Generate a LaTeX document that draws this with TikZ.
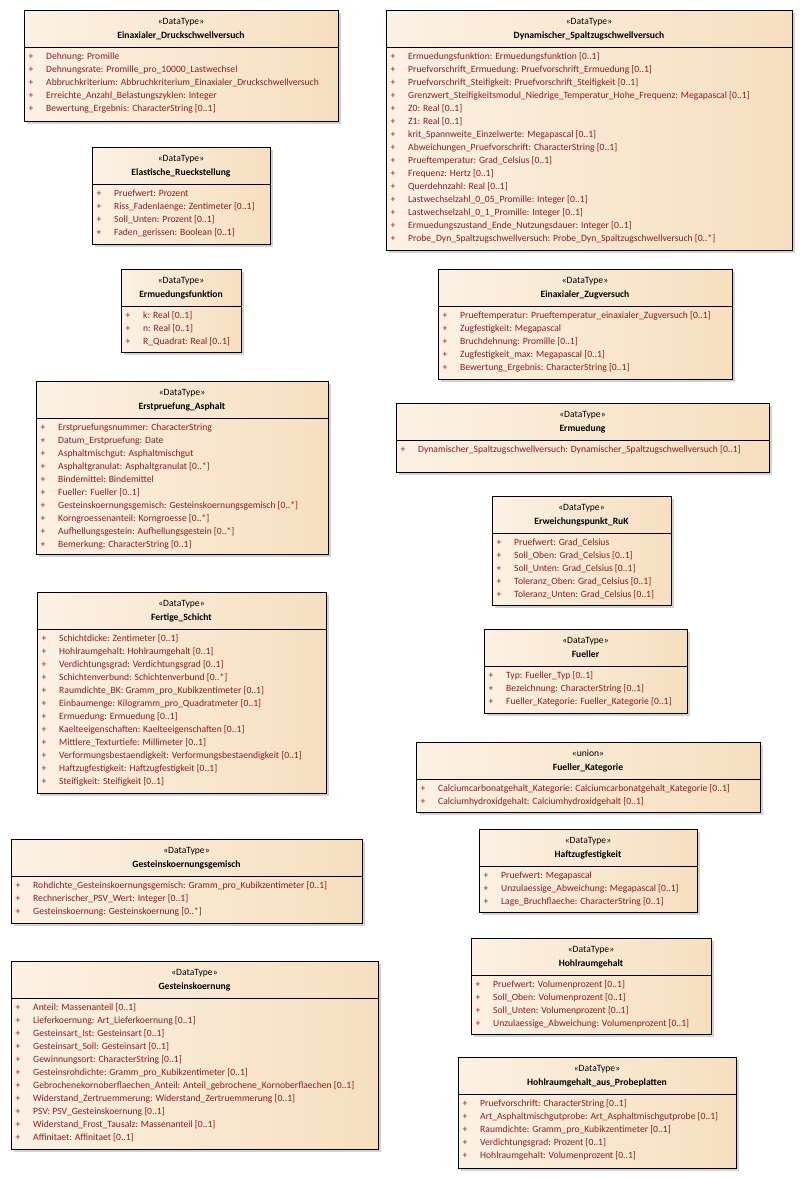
\documentclass[tikz,border=0pt]{standalone}
\usepackage{fontspec}
\setmainfont{Carlito}
\usetikzlibrary{shadows}

\definecolor{boxL}{HTML}{FBF1E3}
\definecolor{boxR}{HTML}{F6DFBF}
\definecolor{attrred}{HTML}{8E1B1B}
\definecolor{boxshade}{HTML}{D2D2D2}

% one data type box: name, left, top, right, bottom, stereotype, title, attributes
\newcommand{\dtbox}[8]{%
  \node[dtbox, minimum width={(#4-#2)*1pt}, minimum height={(#5-#3)*1pt}] (#1) at (#2,#3) {};
  \draw[sepline] ({#2},{#3+37}) -- ({#4},{#3+37});
  \node[stereo] (#1-st) at ({(#2+#4)/2},{#3+12.5}) {#6};
  \node[dtname] (#1-nm) at ({(#2+#4)/2},{#3+26}) {#7};
  \foreach \a [count=\i] in {#8} {
    \node[attrplus] (#1-p\i) at ({#2+7},{#3+47.5+13*(\i-1)}) {+};
    \node[attr] (#1-a\i) at ({#2+22},{#3+47.5+13*(\i-1)}) {\a};
  }
}

\begin{document}
\begin{tikzpicture}[x=1pt, y=-1pt,
    dtbox/.style={anchor=north west, draw=black, line width=0.9pt, inner sep=0pt,
      left color=boxL, right color=boxR,
      general shadow={fill=boxshade, shadow xshift=3pt, shadow yshift=-3pt}},
    sepline/.style={draw=black, line width=0.8pt},
    stereo/.style={anchor=mid, inner sep=0pt, font=\fontsize{9.6}{11}\selectfont},
    dtname/.style={anchor=mid, inner sep=0pt, font=\fontsize{9.6}{11}\selectfont\bfseries},
    attrplus/.style={anchor=mid, inner sep=0pt, text=attrred, font=\fontsize{9.6}{11}\selectfont},
    attr/.style={anchor=mid west, inner sep=0pt, text=attrred, font=\fontsize{9.6}{11}\selectfont}]
  \useasboundingbox (0,0) rectangle (802,1178);
  \fill[white] (0,0) rectangle (802,1178);

  % left column
  \dtbox{druck}{24}{10}{338}{121}{«DataType»}{Einaxialer\_Druckschwellversuch}{
    Dehnung: Promille,
    Dehnungsrate: Promille\_pro\_10000\_Lastwechsel,
    Abbruchkriterium: Abbruchkriterium\_Einaxialer\_Druckschwellversuch,
    Erreichte\_Anzahl\_Belastungszyklen: Integer,
    Bewertung\_Ergebnis: CharacterString [0..1]}
  \dtbox{elast}{92}{147}{270}{244}{«DataType»}{Elastische\_Rueckstellung}{
    Pruefwert: Prozent,
    Riss\_Fadenlaenge: Zentimeter [0..1],
    Soll\_Unten: Prozent [0..1],
    Faden\_gerissen: Boolean [0..1]}
  \dtbox{ermfkt}{121}{269}{241}{352}{«DataType»}{Ermuedungsfunktion}{
    k: Real [0..1],
    n: Real [0..1],
    R\_Quadrat: Real [0..1]}
  \dtbox{erstpr}{36}{381}{328}{554}{«DataType»}{Erstpruefung\_Asphalt}{
    Erstpruefungsnummer: CharacterString,
    Datum\_Erstpruefung: Date,
    Asphaltmischgut: Asphaltmischgut,
    Asphaltgranulat: Asphaltgranulat [0..*],
    Bindemittel: Bindemittel,
    Fueller: Fueller [0..1],
    Gesteinskoernungsgemisch: Gesteinskoernungsgemisch [0..*],
    Korngroessenanteil: Korngroesse [0..*],
    Aufhellungsgestein: Aufhellungsgestein [0..*],
    Bemerkung: CharacterString [0..1]}
  \dtbox{fertig}{37}{592}{326}{793}{«DataType»}{Fertige\_Schicht}{
    Schichtdicke: Zentimeter [0..1],
    Hohlraumgehalt: Hohlraumgehalt [0..1],
    Verdichtungsgrad: Verdichtungsgrad [0..1],
    Schichtenverbund: Schichtenverbund [0..*],
    Raumdichte\_BK: Gramm\_pro\_Kubikzentimeter [0..1],
    Einbaumenge: Kilogramm\_pro\_Quadratmeter [0..1],
    Ermuedung: Ermuedung [0..1],
    Kaelteeigenschaften: Kaelteeigenschaften [0..1],
    Mittlere\_Texturtiefe: Millimeter [0..1],
    Verformungsbestaendigkeit: Verformungsbestaendigkeit [0..1],
    Haftzugfestigkeit: Haftzugfestigkeit [0..1],
    Steifigkeit: Steifigkeit [0..1]}
  \dtbox{gkgem}{11}{839}{362}{923}{«DataType»}{Gesteinskoernungsgemisch}{
    Rohdichte\_Gesteinskoernungsgemisch: Gramm\_pro\_Kubikzentimeter [0..1],
    Rechnerischer\_PSV\_Wert: Integer [0..1],
    Gesteinskoernung: Gesteinskoernung [0..*]}
  \dtbox{gk}{11}{961}{378}{1149}{«DataType»}{Gesteinskoernung}{
    Anteil: Massenanteil [0..1],
    Lieferkoernung: Art\_Lieferkoernung [0..1],
    Gesteinsart\_Ist: Gesteinsart [0..1],
    Gesteinsart\_Soll: Gesteinsart [0..1],
    Gewinnungsort: CharacterString [0..1],
    Gesteinsrohdichte: Gramm\_pro\_Kubikzentimeter [0..1],
    Gebrochenekornoberflaechen\_Anteil: Anteil\_gebrochene\_Kornoberflaechen [0..1],
    Widerstand\_Zertruemmerung: Widerstand\_Zertruemmerung [0..1],
    PSV: PSV\_Gesteinskoernung [0..1],
    Widerstand\_Frost\_Tausalz: Massenanteil [0..1],
    Affinitaet: Affinitaet [0..1]}

  % right column
  \dtbox{dyn}{386}{10}{792}{250}{«DataType»}{Dynamischer\_Spaltzugschwellversuch}{
    Ermuedungsfunktion: Ermuedungsfunktion [0..1],
    Pruefvorschrift\_Ermuedung: Pruefvorschrift\_Ermuedung [0..1],
    Pruefvorschrift\_Steifigkeit: Pruefvorschrift\_Steifigkeit [0..1],
    Grenzwert\_Steifigkeitsmodul\_Niedrige\_Temperatur\_Hohe\_Frequenz: Megapascal [0..1],
    Z0: Real [0..1],
    Z1: Real [0..1],
    krit\_Spannweite\_Einzelwerte: Megapascal [0..1],
    Abweichungen\_Pruefvorschrift: CharacterString [0..1],
    Prueftemperatur: Grad\_Celsius [0..1],
    Frequenz: Hertz [0..1],
    Querdehnzahl: Real [0..1],
    Lastwechselzahl\_0\_05\_Promille: Integer [0..1],
    Lastwechselzahl\_0\_1\_Promille: Integer [0..1],
    Ermuedungszustand\_Ende\_Nutzungsdauer: Integer [0..1],
    Probe\_Dyn\_Spaltzugschwellversuch: Probe\_Dyn\_Spaltzugschwellversuch [0..*]}
  \dtbox{zug}{438}{269}{732}{379}{«DataType»}{Einaxialer\_Zugversuch}{
    Prueftemperatur: Prueftemperatur\_einaxialer\_Zugversuch [0..1],
    Zugfestigkeit: Megapascal,
    Bruchdehnung: Promille [0..1],
    Zugfestigkeit\_max: Megapascal [0..1],
    Bewertung\_Ergebnis: CharacterString [0..1]}
  \dtbox{ermued}{396}{403}{769}{472}{«DataType»}{Ermuedung}{
    Dynamischer\_Spaltzugschwellversuch: Dynamischer\_Spaltzugschwellversuch [0..1]}
  \dtbox{erweich}{492}{496}{671}{605}{«DataType»}{Erweichungspunkt\_RuK}{
    Pruefwert: Grad\_Celsius,
    Soll\_Oben: Grad\_Celsius [0..1],
    Soll\_Unten: Grad\_Celsius [0..1],
    Toleranz\_Oben: Grad\_Celsius [0..1],
    Toleranz\_Unten: Grad\_Celsius [0..1]}
  \dtbox{fueller}{484}{629}{687}{713}{«DataType»}{Fueller}{
    Typ: Fueller\_Typ [0..1],
    Bezeichnung: CharacterString [0..1],
    Fueller\_Kategorie: Fueller\_Kategorie [0..1]}
  \dtbox{fkat}{416}{742}{760}{812}{«union»}{Fueller\_Kategorie}{
    Calciumcarbonatgehalt\_Kategorie: Calciumcarbonatgehalt\_Kategorie [0..1],
    Calciumhydroxidgehalt: Calciumhydroxidgehalt [0..1]}
  \dtbox{haftz}{479}{829}{697}{912}{«DataType»}{Haftzugfestigkeit}{
    Pruefwert: Megapascal,
    Unzulaessige\_Abweichung: Megapascal [0..1],
    Lage\_Bruchflaeche: CharacterString [0..1]}
  \dtbox{hohlr}{471}{938}{711}{1034}{«DataType»}{Hohlraumgehalt}{
    Pruefwert: Volumenprozent [0..1],
    Soll\_Oben: Volumenprozent [0..1],
    Soll\_Unten: Volumenprozent [0..1],
    Unzulaessige\_Abweichung: Volumenprozent [0..1]}
  \dtbox{hohlrpp}{458}{1057}{736}{1168}{«DataType»}{Hohlraumgehalt\_aus\_Probeplatten}{
    Pruefvorschrift: CharacterString [0..1],
    Art\_Asphaltmischgutprobe: Art\_Asphaltmischgutprobe [0..1],
    Raumdichte: Gramm\_pro\_Kubikzentimeter [0..1],
    Verdichtungsgrad: Prozent [0..1],
    Hohlraumgehalt: Volumenprozent [0..1]}
\end{tikzpicture}
\end{document}
